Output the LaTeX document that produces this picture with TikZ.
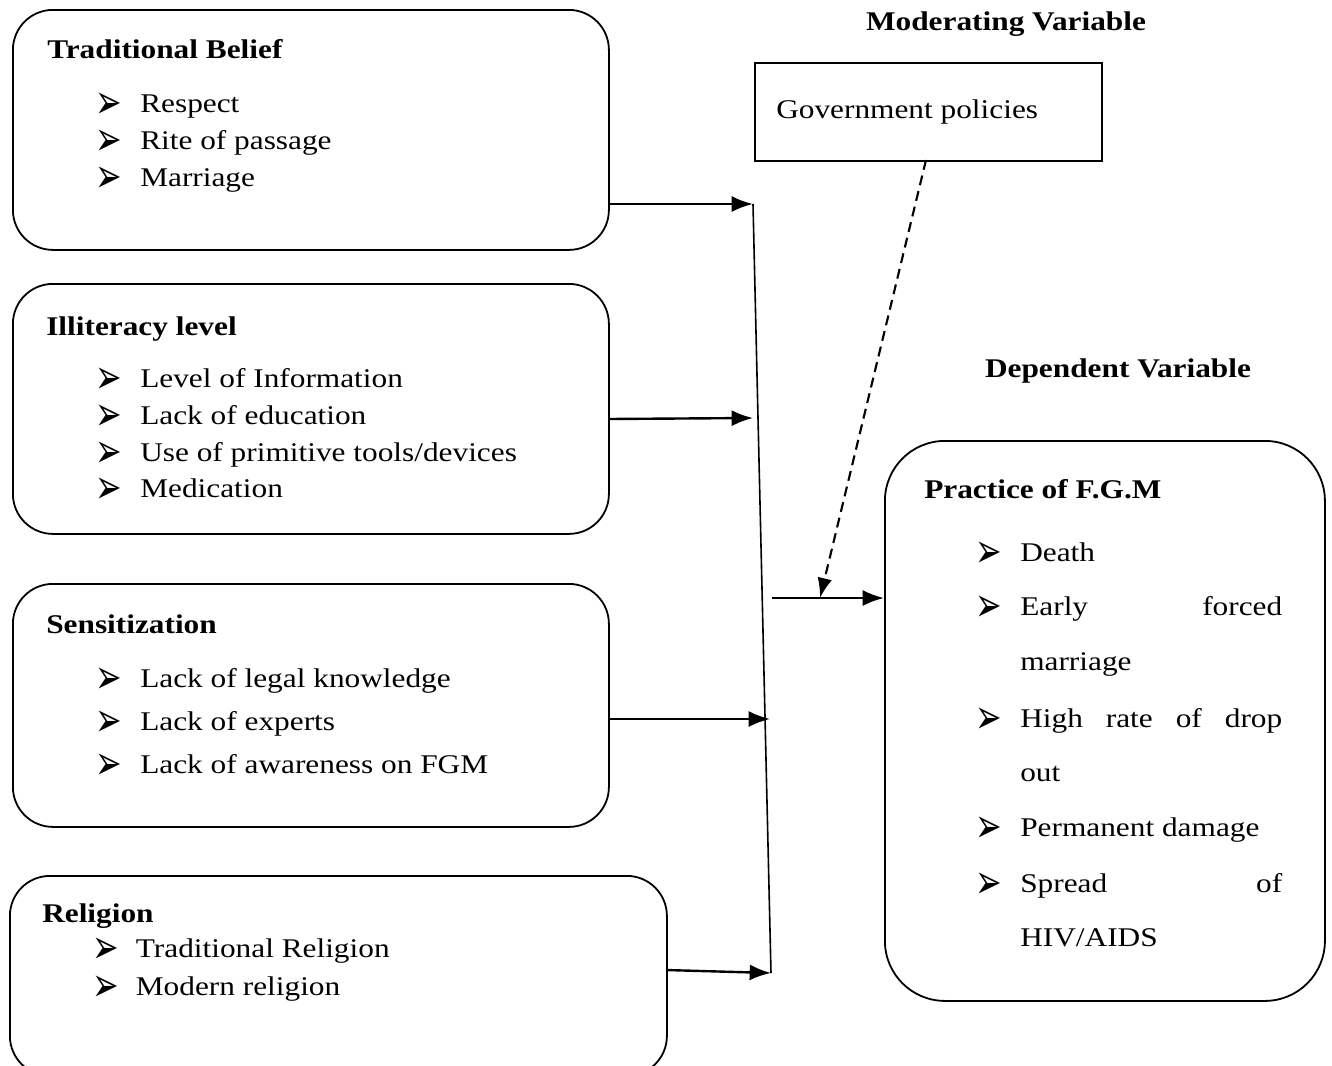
\documentclass[tikz,border=0pt]{standalone}
\usepackage{fontspec}
\setmainfont{Liberation Serif}
\newfontfamily\symf{DejaVu Sans}
\usepackage{graphicx}
\usetikzlibrary{arrows.meta}
\newcommand{\bul}{\raisebox{-4.5pt}[13pt][0pt]{\scalebox{0.57}[1]{\symf\fontsize{36}{36}\selectfont ➢}}}
\newcommand{\itm}[2][29.1pt]{\scalebox{1.16}[1]{\makebox[#1][l]{\bul}#2}}
\newcommand{\ttl}[1]{\scalebox{1.16}[1]{\textbf{#1}}}
\newcommand{\txt}[1]{\scalebox{1.16}[1]{#1}}
\begin{document}
\begin{tikzpicture}[x=0.75pt,y=-0.75pt,
  lbl/.style={anchor=base west, inner sep=0pt, font=\fontsize{20.25}{24}\selectfont},
  clbl/.style={anchor=base, inner sep=0pt, font=\fontsize{20.25}{24}\selectfont},
  rbox/.style={draw, line width=1.35pt, rounded corners=30pt, anchor=north west, inner sep=0pt},
  sbox/.style={draw, line width=1.35pt, anchor=north west, inner sep=0pt},
  arr/.style={line width=1.8pt, -{Latex[length=16pt,width=12pt]}},
  dasharr/.style={line width=1.6pt, dash pattern=on 7.5pt off 4.5pt, -{Latex[length=15pt,width=11pt]}},
  coll/.style={line width=1.2pt}]
\useasboundingbox (0,0) rectangle (1332,1065);

% boxes
\node[rbox, minimum width=447pt, minimum height=180pt] (b1) at (12,9) {};
\node[rbox, minimum width=447pt, minimum height=187.5pt] (b2) at (12,283) {};
\node[rbox, minimum width=447pt, minimum height=182.25pt] (b3) at (12,583) {};
\node[rbox, minimum width=492.75pt, minimum height=150pt] (b4) at (9,875) {};
\node[sbox, minimum width=260.25pt, minimum height=73.5pt] (gov) at (754,62) {};
\node[rbox, rounded corners=45pt, minimum width=330pt, minimum height=420pt] (fgm) at (884,440) {};

% headings
\node[clbl] (mod) at (1006,30) {\ttl{Moderating Variable}};
\node[clbl] (dep) at (1118,377) {\ttl{Dependent Variable}};

% box 1
\node[lbl] (t1) at (47,58) {\ttl{Traditional Belief}};
\node[lbl] (t1a) at (95,112) {\itm{Respect}};
\node[lbl] (t1b) at (95,149) {\itm{Rite of passage}};
\node[lbl] (t1c) at (95,186) {\itm{Marriage}};

% box 2
\node[lbl] (t2) at (46,335) {\ttl{Illiteracy level}};
\node[lbl] (t2a) at (95,387) {\itm{Level of Information}};
\node[lbl] (t2b) at (95,424) {\itm{Lack of education}};
\node[lbl] (t2c) at (95,461) {\itm{Use of primitive tools/devices}};
\node[lbl] (t2d) at (95,497) {\itm{Medication}};

% box 3
\node[lbl] (t3) at (46,633) {\ttl{Sensitization}};
\node[lbl] (t3a) at (95,687) {\itm{Lack of legal knowledge}};
\node[lbl] (t3b) at (95,730) {\itm{Lack of experts}};
\node[lbl] (t3c) at (95,773) {\itm{Lack of awareness on FGM}};

% box 4
\node[lbl] (t4) at (42,922) {\ttl{Religion}};
\node[lbl] (t4a) at (92,957) {\itm[28.2pt]{Traditional Religion}};
\node[lbl] (t4b) at (92,995) {\itm[28.2pt]{Modern religion}};

% government policies
\node[lbl] (tg) at (776,118) {\txt{Government policies}};

% FGM box
\node[lbl] (tf) at (924,498) {\ttl{Practice of F.G.M}};
\node[lbl] (tfa) at (975,561) {\itm{Death}};
\node[lbl] (tfb) at (975,615) {\itm{\makebox[169.4pt][l]{Early\hfill forced}}};
\node[lbl] (tfb2) at (1020,670) {\txt{marriage}};
\node[lbl] (tfc) at (975,727) {\itm{\makebox[169.4pt][s]{High rate of drop}}};
\node[lbl] (tfc2) at (1020,781) {\txt{out}};
\node[lbl] (tfd) at (975,836) {\itm{Permanent damage}};
\node[lbl] (tfe) at (975,892) {\itm{\makebox[169.4pt][l]{Spread\hfill of}}};
\node[lbl] (tfe2) at (1020,946) {\txt{HIV/AIDS}};

% connectors
\coordinate (c1) at (753,204);
\coordinate (c2) at (753,418);
\coordinate (c3) at (770,719);
\coordinate (c4) at (771,973);
\coordinate (cs) at (772,598);
\coordinate (cm) at (820,598);
\coordinate (gs) at (926,160);

\draw[coll] (c1) -- (c4);
\draw[arr] (b1.east |- c1) -- (c1);
\draw[arr] (608,419) -- (c2);
\draw[arr] (b3.east |- c3) -- (c3);
\draw[arr] (666,970) -- (c4);
\draw[arr] (cs) -- (fgm.west |- cs);
\draw[dasharr] (gs) -- (cm);
\end{tikzpicture}
\end{document}
